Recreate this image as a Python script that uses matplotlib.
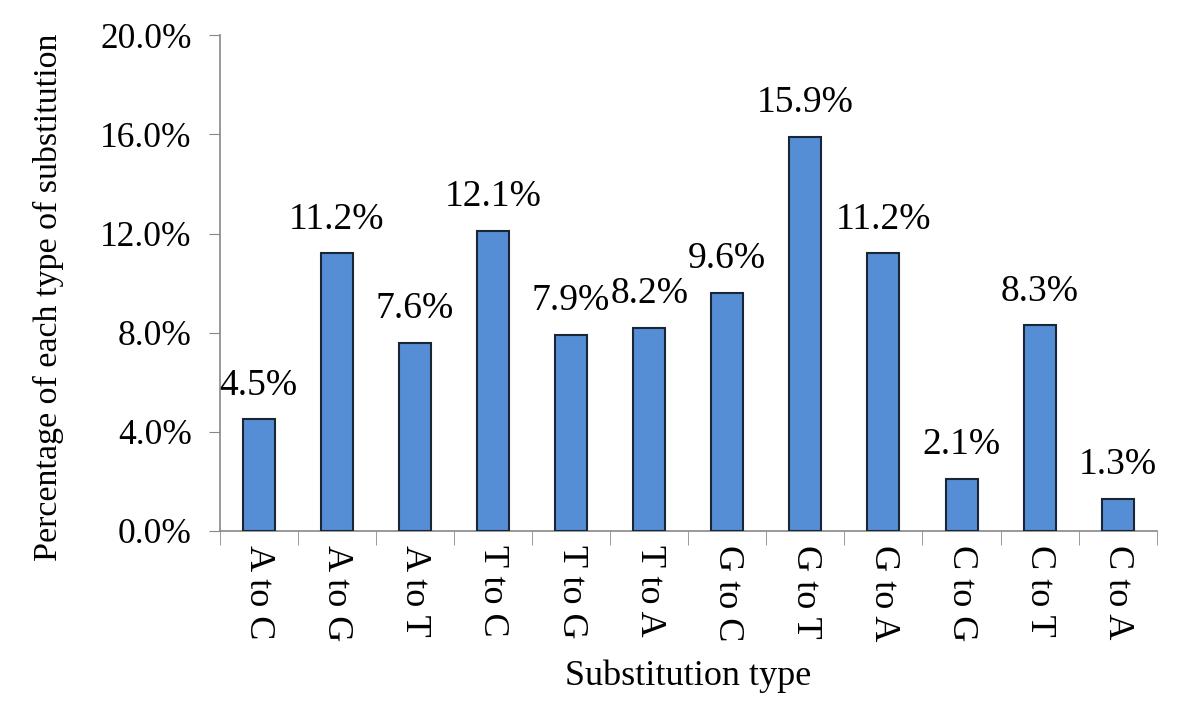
import matplotlib
matplotlib.use("Agg")
import matplotlib.pyplot as plt
import numpy as np

categories = ["A to C", "A to G", "A to T", "T to C", "T to G", "T to A",
              "G to C", "G to T", "G to A", "C to G", "C to T", "C to A"]
values = [4.5, 11.2, 7.6, 12.1, 7.9, 8.2, 9.6, 15.9, 11.2, 2.1, 8.3, 1.3]
yticks = [0, 4, 8, 12, 16, 20]

plt.rcParams['font.family'] = ['Liberation Serif', 'DejaVu Serif']

fig = plt.figure(figsize=(12, 7.06), dpi=100)
ax = fig.add_axes([0.183, 0.248, 0.781, 0.702])

x = np.arange(len(categories))
ax.bar(x, values, width=0.41, color="#558ED5", edgecolor="#1a2535", linewidth=1.5, zorder=3)

for xi, v in zip(x, values):
    ax.annotate(f"{v:.1f}%", (xi, v), xytext=(0, 12), textcoords="offset points",
                ha="center", va="bottom", fontsize=27)

ax.set_xlim(-0.5, len(categories) - 0.5)
ax.set_ylim(0, 20)
ax.set_yticks(yticks)
ax.set_yticklabels([f"{t:.1f}%" for t in yticks], fontsize=25.5)
ax.set_xticks(x)
ax.set_xticklabels(categories, rotation=-90, fontsize=26, va="top")
ax.tick_params(axis="x", length=0, pad=10)
ax.set_xticks(np.arange(-0.5, len(categories)), minor=True)
ax.tick_params(axis="x", which="minor", length=10, color="#888888", direction="out")
ax.tick_params(axis="y", length=8, color="#888888", direction="out", pad=12)

for s in ["top", "right"]:
    ax.spines[s].set_visible(False)
for s in ["left", "bottom"]:
    ax.spines[s].set_color("#888888")
    ax.spines[s].set_linewidth(1.2)

ax.set_xlabel("Substitution type", fontsize=26, labelpad=13)
ax.set_ylabel("Percentage of each type of substitution", fontsize=24.5, labelpad=26)
ax.yaxis.label.set_y(0.472)

fig.savefig("out.png", dpi=100)
